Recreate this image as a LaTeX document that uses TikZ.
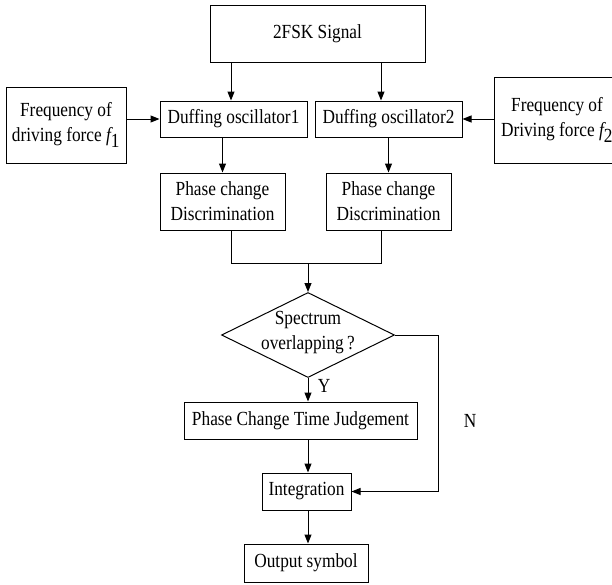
\documentclass[tikz,border=0pt]{standalone}
\usepackage{fontspec}
\setmainfont{Liberation Serif}[FakeStretch=0.865]
\usetikzlibrary{arrows.meta}
\usetikzlibrary{shapes.geometric}

\begin{document}
\begin{tikzpicture}[
    x=1pt, y=-1pt,
    every node/.style={font=\fontsize{20}{25}\selectfont},
    b/.style={draw=black,line width=1pt,align=center,inner sep=0pt},
    dec/.style={draw=black,line width=1pt,diamond,aspect=2,inner sep=0pt},
    c/.style={draw=black,line width=1pt},
    a/.style={c,-{Triangle[length=9pt,width=7pt]}}
]
\clip (0,0) rectangle (612,584);

\node [b,minimum width=215pt,minimum height=57pt] (sig)  at (317.5, 33.5) {2FSK Signal};

\node [b,minimum width=120pt,minimum height=76pt] (frq1) at ( 66.0,125.0)
    {Frequency of\\driving force $\textit{f}_{\textrm{1}}$};
\node [b,minimum width=126pt,minimum height=86pt] (frq2) at (557.0,120.0)
    {Frequency of\\Driving force $\textit{f}_{\textrm{2}}$};

\node [b,minimum width=147pt,minimum height=36pt] (duf1) at (233.5,119.0) {Duffing oscillator1};
\node [b,minimum width=147pt,minimum height=36pt] (duf2) at (388.5,119.0) {Duffing oscillator2};

\node [b,minimum width=125pt,minimum height=57pt] (pcd1) at (222.5,201.5) {Phase change\\Discrimination};
\node [b,minimum width=125pt,minimum height=57pt] (pcd2) at (388.5,201.5) {Phase change\\Discrimination};

\coordinate (mrg) at (308,263);

\node [dec,minimum width=173pt,minimum height=85pt] (spec) at (308,335) {};
\node [align=center] (spectxt) at (308,333) {Spectrum\\overlapping\,?};

\node [b,minimum width=233pt,minimum height=37pt] (pctj) at (300.5,420.5) {Phase Change Time Judgement};
\node [b,minimum width=89pt, minimum height=37pt] (intg) at (306.5,491.5) {Integration};
\node [b,minimum width=124pt,minimum height=38pt] (outp) at (306.0,563.0) {Output symbol};

\node (ylbl) at (324,386) {Y};
\node (nlbl) at (470,421) {N};

% inputs
\draw [a] ([xshift=-2.5pt]duf1.north |- sig.south) -- ([xshift=-2.5pt]duf1.north);
\draw [a] ([xshift=-7.5pt]duf2.north |- sig.south) -- ([xshift=-7.5pt]duf2.north);
\draw [a] (frq1.east |- duf1.west) -- (duf1.west);
\draw [a] (frq2.west |- duf2.east) -- (duf2.east);

\draw [a] (pcd1.north |- duf1.south) -- (pcd1.north);
\draw [a] (pcd2.north |- duf2.south) -- (pcd2.north);

% merge
\draw [c] ([xshift=8.5pt]pcd1.south) |- ([xshift=-7.5pt]pcd2.south |- mrg)
    -- ([xshift=-7.5pt]pcd2.south);
\draw [a] (mrg) -- (spec.north);

\draw [a] (spec.south) -- (spec.south |- pctj.north);
\draw [a] (spec.south |- pctj.south) -- (spec.south |- intg.north);
\draw [a] (spec.east) -- ++(43,0) |- (intg.east);
\draw [a] (spec.south |- intg.south) -- (spec.south |- outp.north);

\end{tikzpicture}
\end{document}
